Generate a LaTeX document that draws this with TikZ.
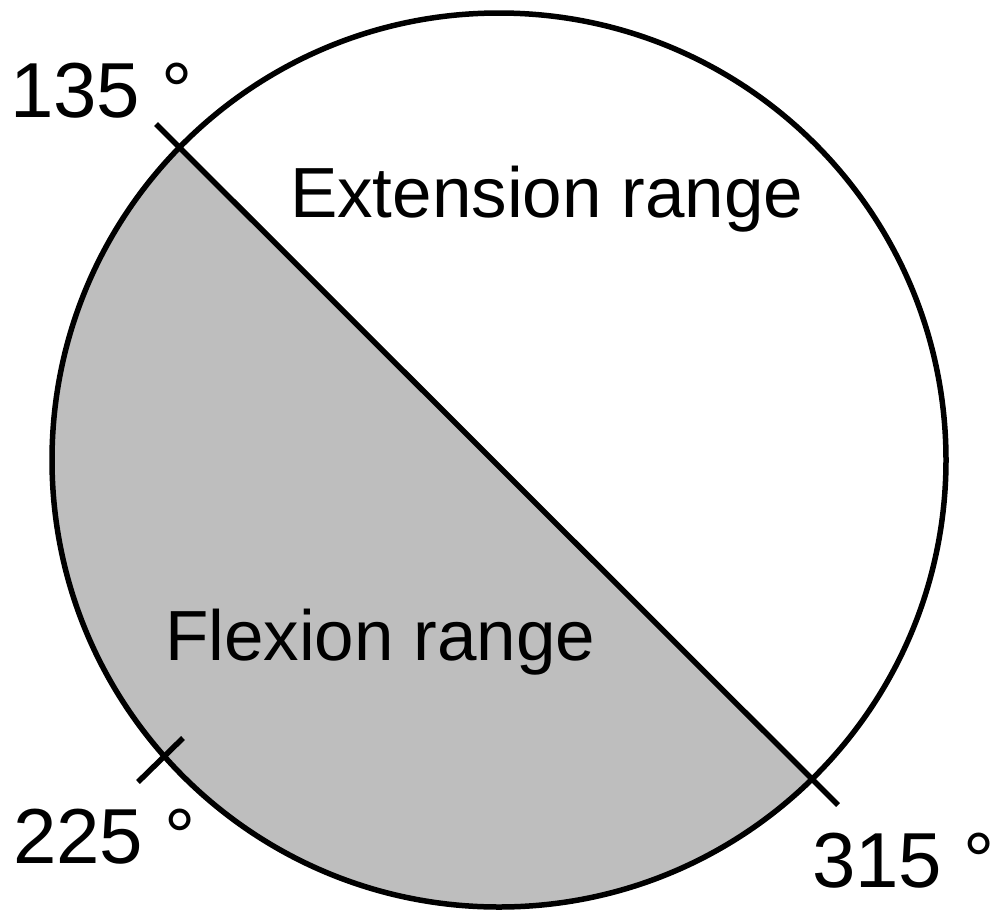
\documentclass[tikz,border=0pt]{standalone}
\usepackage{fontspec}
\setmainfont{Liberation Sans}
\definecolor{flexgray}{RGB}{190,190,190}
\tikzset{
  outline/.style={line width=5.5pt, black},
  lbl/.style={inner sep=0pt, outer sep=0pt, anchor=base west, font=\fontsize{78pt}{90pt}\selectfont},
  rangelbl/.style={inner sep=0pt, outer sep=0pt, anchor=base west, font=\fontsize{71pt}{82pt}\selectfont}
}
\begin{document}
\begin{tikzpicture}[x=1pt,y=-1pt]
\useasboundingbox (0,0) rectangle (1000,919);
\coordinate (c) at (499,460);
\coordinate (a135) at (156,124);
\coordinate (a315) at (838,805);
\coordinate (t1) at (183,738);
\coordinate (t2) at (138,782);
\begin{scope}
  \clip (c) circle[radius=447pt];
  \fill[flexgray] (-200,-231.5) -- (1200,1166) -- (-200,1166) -- cycle;
\end{scope}
\draw[outline] (c) circle[radius=447pt];
\draw[outline] (a135) -- (a315);
\draw[outline] (t1) -- (t2);
\node[lbl] (l135) at (10,117) {135 °};
\node[lbl] (l225) at (13,863) {225 °};
\node[lbl] (l315) at (812,887) {315 °};
\node[rangelbl] (ext) at (290,217) {Extension range};
\node[rangelbl] (flex) at (165,660) {Flexion range};
\end{tikzpicture}
\end{document}
